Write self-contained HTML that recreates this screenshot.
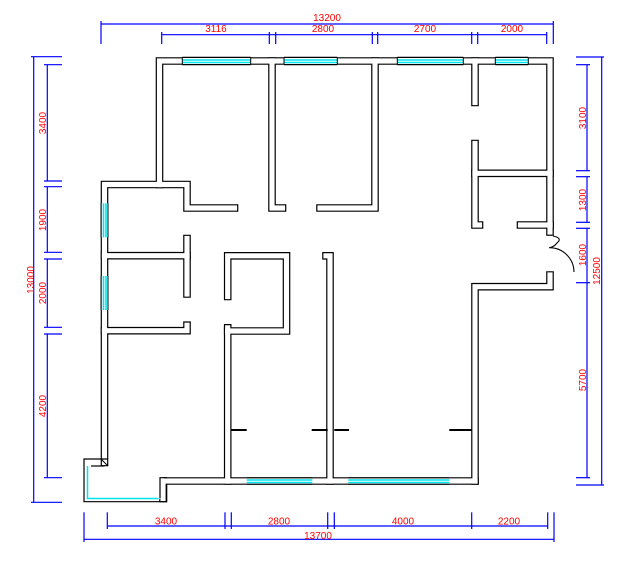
<!DOCTYPE html>
<html><head><meta charset="utf-8"><style>
html,body{margin:0;padding:0;background:#fff;}
svg{display:block;}
text{font-family:"Liberation Sans",sans-serif;font-size:10px;fill:#ff0000;}
</style></head><body>
<svg width="630" height="564" viewBox="0 0 630 564" xmlns="http://www.w3.org/2000/svg">
<defs>
<g id="walls">
<polyline points="163,481 163,498.5"/>
<polyline points="475,481 163,481"/>
<polyline points="104.5,462.5 104.5,184.5 187,184.5 187,208 234.5,208"/>
<polyline points="159.5,184.5 159.5,61 550,61 550,225"/>
<polyline points="550,225 550,232"/>
<polyline points="550,275 550,286.7 475,286.7 475,481"/>
<polyline points="272,61 272,208 282.5,208"/>
<polyline points="375,61 375,208 320,208"/>
<polyline points="475,61 475,102.5"/>
<polyline points="475,143.5 475,225 479.5,225"/>
<polyline points="475,173.3 550,173.3"/>
<polyline points="520.5,225 550,225"/>
<polyline points="104.5,255.7 187,255.7"/>
<polyline points="187,238.5 187,294"/>
<polyline points="104.5,330.7 187,330.7 187,325.2"/>
<polyline points="227.7,296.5 227.7,255.8 286.5,255.8 286.5,331 227.7,331"/>
<polyline points="227.7,327.8 227.7,481"/>
<polyline points="326,255.8 330,255.8 330,481"/>
</g>
</defs>
<g fill="none" stroke-linejoin="miter">
<use href="#walls" stroke="#000" stroke-width="7.6" stroke-linecap="square"/>
<use href="#walls" stroke="#fff" stroke-width="5.2" stroke-linecap="square"/>
<!-- bottom-left notch (window) -->
<polyline points="108,459 84,459 84,501.7 166.7,501.7 166.7,484.3" stroke="#000" stroke-width="1.2"/>
<polyline points="104.5,466 91,466" stroke="#000" stroke-width="1.2"/>
<line x1="101" y1="459" x2="108" y2="466" stroke="#000" stroke-width="1"/>
<polyline points="87.5,466 87.5,498.5 160,498.5" stroke="#00e5ee" stroke-width="1.5"/>
<rect x="158.5" y="477" width="5" height="22" fill="#fff" stroke="none"/>
<polyline points="160,498.5 160,477.7 166.7,477.7" stroke="#000" stroke-width="1.2"/>
<!-- windows -->
<g stroke="none" fill="#fff">
<rect x="182.3" y="58" width="68.4" height="6"/>
<rect x="284" y="58" width="53.3" height="6"/>
<rect x="397.3" y="58" width="66" height="6"/>
<rect x="495.3" y="58" width="33" height="6"/>
<rect x="246.7" y="478.4" width="65.6" height="5.4"/>
<rect x="348.3" y="478.4" width="101" height="5.4"/>
<rect x="101.7" y="203.3" width="5.8" height="34"/>
<rect x="101.7" y="276" width="5.8" height="34"/>
</g>
<g stroke="#00e5ee" stroke-width="1.6">
<line x1="182.3" y1="60" x2="250.7" y2="60"/><line x1="182.3" y1="62.5" x2="250.7" y2="62.5"/>
<line x1="284" y1="60" x2="337.3" y2="60"/><line x1="284" y1="62.5" x2="337.3" y2="62.5"/>
<line x1="397.3" y1="60" x2="463.3" y2="60"/><line x1="397.3" y1="62.5" x2="463.3" y2="62.5"/>
<line x1="495.3" y1="60" x2="528.3" y2="60"/><line x1="495.3" y1="62.5" x2="528.3" y2="62.5"/>
<line x1="246.7" y1="480" x2="312.3" y2="480"/><line x1="246.7" y1="482.5" x2="312.3" y2="482.5"/>
<line x1="348.3" y1="480" x2="449.3" y2="480"/><line x1="348.3" y1="482.5" x2="449.3" y2="482.5"/>
<line x1="103.5" y1="203.3" x2="103.5" y2="237.3"/><line x1="106" y1="203.3" x2="106" y2="237.3"/>
<line x1="103.5" y1="276" x2="103.5" y2="310"/><line x1="106" y1="276" x2="106" y2="310"/>
</g>
<g stroke="#000" stroke-width="1">
<line x1="182.3" y1="57.3" x2="182.3" y2="64.7"/><line x1="250.7" y1="57.3" x2="250.7" y2="64.7"/>
<line x1="284" y1="57.3" x2="284" y2="64.7"/><line x1="337.3" y1="57.3" x2="337.3" y2="64.7"/>
<line x1="397.3" y1="57.3" x2="397.3" y2="64.7"/><line x1="463.3" y1="57.3" x2="463.3" y2="64.7"/>
<line x1="495.3" y1="57.3" x2="495.3" y2="64.7"/><line x1="528.3" y1="57.3" x2="528.3" y2="64.7"/>
<line x1="182.3" y1="57.3" x2="250.7" y2="57.3"/><line x1="284" y1="57.3" x2="337.3" y2="57.3"/>
<line x1="397.3" y1="57.3" x2="463.3" y2="57.3"/><line x1="495.3" y1="57.3" x2="528.3" y2="57.3"/>
<line x1="182.3" y1="64.7" x2="250.7" y2="64.7"/><line x1="284" y1="64.7" x2="337.3" y2="64.7"/>
<line x1="397.3" y1="64.7" x2="463.3" y2="64.7"/><line x1="495.3" y1="64.7" x2="528.3" y2="64.7"/>
<line x1="246.7" y1="477.7" x2="312.3" y2="477.7"/><line x1="246.7" y1="484.3" x2="312.3" y2="484.3"/>
<line x1="348.3" y1="477.7" x2="449.3" y2="477.7"/><line x1="348.3" y1="484.3" x2="449.3" y2="484.3"/>
<line x1="101" y1="203.3" x2="101" y2="237.3"/><line x1="101" y1="276" x2="101" y2="310"/>
<line x1="108" y1="203.3" x2="108" y2="237.3"/><line x1="108" y1="276" x2="108" y2="310"/>
</g>
<g stroke="#000" stroke-width="2">
<line x1="231.3" y1="430" x2="246.7" y2="430"/>
<line x1="311.7" y1="430" x2="327.7" y2="430"/>
<line x1="334.3" y1="430" x2="349" y2="430"/>
<line x1="449.3" y1="430" x2="471.7" y2="430"/>
</g>
<!-- door -->
<path d="M549.3,247.7 A24.5,24.5 0 0 1 574,272" stroke="#000" stroke-width="1.1"/>
<path d="M553,236 Q563,238 557,243 Q554,247 549.3,247.7" stroke="#000" stroke-width="1.1"/>
<!-- dimensions -->
<g stroke="#0000ff" stroke-width="1.2">
<line x1="101" y1="24" x2="553.3" y2="24"/>
<line x1="101" y1="21" x2="101" y2="44"/><line x1="553.3" y1="21" x2="553.3" y2="44"/>
<line x1="161.7" y1="34.7" x2="547" y2="34.7"/>
<line x1="161.7" y1="32" x2="161.7" y2="44"/><line x1="269.3" y1="32" x2="269.3" y2="44"/>
<line x1="275.7" y1="32" x2="275.7" y2="44"/><line x1="372.3" y1="32" x2="372.3" y2="44"/>
<line x1="377.7" y1="32" x2="377.7" y2="44"/><line x1="471.7" y1="32" x2="471.7" y2="44"/>
<line x1="477.7" y1="32" x2="477.7" y2="44"/><line x1="546.7" y1="32" x2="546.7" y2="44"/>

<line x1="33.7" y1="56.7" x2="33.7" y2="502.3"/>
<line x1="31" y1="56.7" x2="62" y2="56.7"/><line x1="31" y1="502.3" x2="62" y2="502.3"/>
<line x1="47.3" y1="64.7" x2="47.3" y2="181"/><line x1="47.3" y1="186.7" x2="47.3" y2="252.3"/>
<line x1="47.3" y1="259" x2="47.3" y2="327.3"/><line x1="47.3" y1="334" x2="47.3" y2="477.7"/>
<line x1="44" y1="64.7" x2="62" y2="64.7"/><line x1="44" y1="181" x2="62" y2="181"/>
<line x1="44" y1="186.7" x2="62" y2="186.7"/><line x1="44" y1="252.3" x2="62" y2="252.3"/>
<line x1="44" y1="259" x2="62" y2="259"/><line x1="44" y1="327.3" x2="62" y2="327.3"/>
<line x1="44" y1="334" x2="62" y2="334"/><line x1="44" y1="477.7" x2="62" y2="477.7"/>

<line x1="601.7" y1="57" x2="601.7" y2="485"/>
<line x1="576" y1="57" x2="604" y2="57"/><line x1="576" y1="485" x2="604" y2="485"/>
<line x1="587" y1="64.7" x2="587" y2="170.7"/><line x1="587" y1="176.7" x2="587" y2="222.3"/>
<line x1="587" y1="228.3" x2="587" y2="477.7"/>
<line x1="576" y1="64.7" x2="590" y2="64.7"/><line x1="576" y1="170.7" x2="590" y2="170.7"/>
<line x1="576" y1="176.7" x2="590" y2="176.7"/><line x1="576" y1="222.3" x2="590" y2="222.3"/>
<line x1="576" y1="228.3" x2="590" y2="228.3"/><line x1="576" y1="282.7" x2="590" y2="282.7"/>
<line x1="576" y1="477.7" x2="590" y2="477.7"/>

<line x1="107.3" y1="526" x2="547.7" y2="526"/>
<line x1="107.3" y1="512.3" x2="107.3" y2="529"/><line x1="225" y1="512.3" x2="225" y2="529"/>
<line x1="231.3" y1="512.3" x2="231.3" y2="529"/><line x1="327.7" y1="512.3" x2="327.7" y2="529"/>
<line x1="334.3" y1="512.3" x2="334.3" y2="529"/><line x1="471.7" y1="512.3" x2="471.7" y2="529"/>
<line x1="547.7" y1="512.3" x2="547.7" y2="529"/>
<line x1="84" y1="539.3" x2="554" y2="539.3"/>
<line x1="84" y1="512.3" x2="84" y2="542"/><line x1="554" y1="512.3" x2="554" y2="542"/>
</g>
<g>
<text x="327" y="21" text-anchor="middle">13200</text>
<text x="216" y="32" text-anchor="middle">3116</text>
<text x="323" y="32" text-anchor="middle">2800</text>
<text x="425" y="32" text-anchor="middle">2700</text>
<text x="512" y="32" text-anchor="middle">2000</text>
<text x="166" y="524.5" text-anchor="middle">3400</text>
<text x="279" y="524.5" text-anchor="middle">2800</text>
<text x="403" y="524.5" text-anchor="middle">4000</text>
<text x="509" y="524.5" text-anchor="middle">2200</text>
<text x="318" y="539" text-anchor="middle">13700</text>
<text transform="translate(34,280) rotate(-90)" text-anchor="middle">13000</text>
<text transform="translate(46,123) rotate(-90)" text-anchor="middle">3400</text>
<text transform="translate(46,220) rotate(-90)" text-anchor="middle">1900</text>
<text transform="translate(46,293) rotate(-90)" text-anchor="middle">2000</text>
<text transform="translate(46,406) rotate(-90)" text-anchor="middle">4200</text>
<text transform="translate(586,118) rotate(-90)" text-anchor="middle">3100</text>
<text transform="translate(586,200) rotate(-90)" text-anchor="middle">1300</text>
<text transform="translate(586,255) rotate(-90)" text-anchor="middle">1600</text>
<text transform="translate(600,271) rotate(-90)" text-anchor="middle">12500</text>
<text transform="translate(586,380) rotate(-90)" text-anchor="middle">5700</text>
</g>
</g>
</svg>
</body></html>
